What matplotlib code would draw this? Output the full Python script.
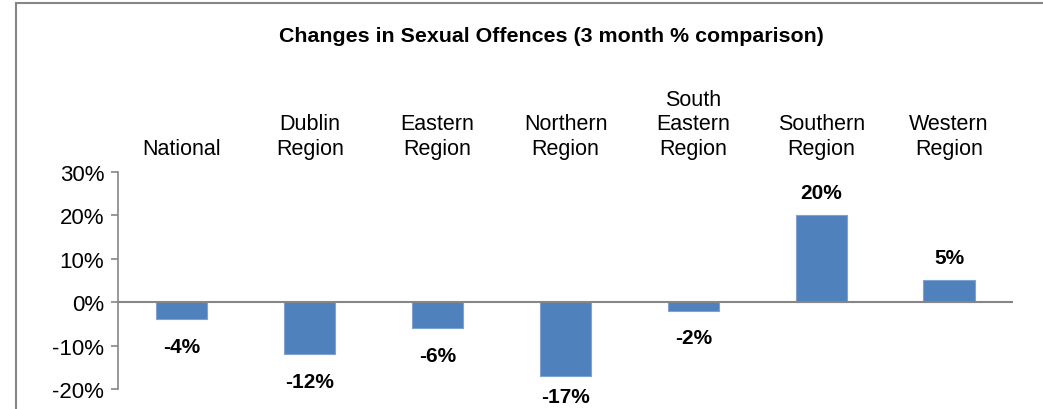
import matplotlib

matplotlib.use("Agg")
import matplotlib.pyplot as plt
from matplotlib.patches import Rectangle

plt.rcParams["font.family"] = ["Liberation Sans", "DejaVu Sans"]

categories = ["National", "Dublin\nRegion", "Eastern\nRegion", "Northern\nRegion",
              "South\nEastern\nRegion", "Southern\nRegion", "Western\nRegion"]
changes = [-4, -12, -6, -17, -2, 20, 5]
y_ticks = [-20, -10, 0, 10, 20, 30]

GREY = "#868686"
BLUE = "#4F81BD"

W, H = 1043, 410
fig = plt.figure(figsize=(W / 100, H / 100), dpi=100)

# outer chart frame (Excel chart area), cut at right and bottom
fig.patches.append(Rectangle((16 / W, -0.1), 1.2, 1 - 4 / H + 0.1,
                             transform=fig.transFigure, fill=False,
                             edgecolor=GREY, linewidth=1.5))

ax = fig.add_axes([118 / W, (H - 390) / H, (1013 - 118) / W, (390 - 172.7) / H])
x = list(range(len(categories)))
ax.bar(x, changes, width=0.4, color=BLUE, edgecolor="#7FA3D0", linewidth=0.8, zorder=2)
ax.axhline(0, color=GREY, linewidth=1.5, zorder=3)

ax.set_xlim(-0.5, len(categories) - 0.5)
ax.set_ylim(-20, 30)
ax.set_yticks(y_ticks)
ax.set_yticklabels([f"{t}%" for t in y_ticks], fontsize=16)
ax.tick_params(axis="y", length=5, width=1.2, color=GREY, pad=5)
ax.set_xticks([])
for s in ("top", "right", "bottom"):
    ax.spines[s].set_visible(False)
ax.spines["left"].set_color(GREY)
ax.spines["left"].set_linewidth(1.2)

# category labels sit above the plot
for xi, name in zip(x, categories):
    ax.text(xi, 1.06, name, transform=ax.get_xaxis_transform(), ha="center",
            va="bottom", fontsize=15.5, linespacing=1.22)

# data labels
for xi, v in zip(x, changes):
    ly = v + 5.3 if v >= 0 else max(v - 6.2, -21.8)
    ax.text(xi, ly, f"{v}%", ha="center", va="center", fontsize=15,
            fontweight="bold", clip_on=False)

fig.text(551 / W, 1 - 36 / H, "Changes in Sexual Offences (3 month % comparison)",
         ha="center", va="center", fontsize=15.4, fontweight="bold")

fig.savefig("out.png", dpi=100)
